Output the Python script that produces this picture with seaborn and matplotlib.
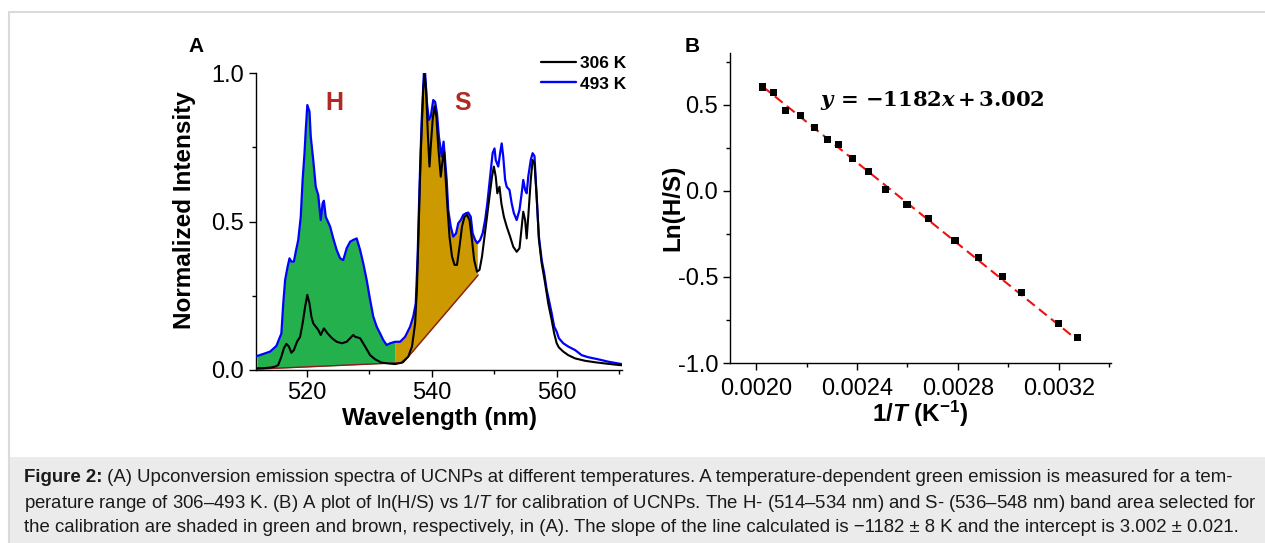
import numpy as np
import pandas as pd
import matplotlib
matplotlib.use("Agg")
import matplotlib.pyplot as plt
import seaborn as sns
from matplotlib.ticker import MultipleLocator, FormatStrFormatter
from matplotlib.lines import Line2D
from matplotlib.patches import Rectangle

# ---------------- data: panel A (spectra) ----------------
wl_306 = [512.0, 513.0, 514.1, 515.0, 515.4, 515.9, 516.3, 516.7, 517.1, 517.5, 517.9, 518.4,
          518.9, 519.3, 519.7, 520.05, 520.4, 520.7, 521.0, 521.4, 521.8, 522.2, 522.7, 523.3,
          524.0, 524.75, 525.6, 526.35, 526.9, 527.4, 527.7, 528.5, 529.3, 530.1, 530.9, 531.9,
          533.0, 534.1, 535.2, 536.2, 536.8, 537.3, 537.6, 537.9, 538.2, 538.6, 538.8, 539.05,
          539.35, 539.6, 539.8, 540.1, 540.4, 540.7, 541.0, 541.4, 541.7, 541.95, 542.2, 542.5,
          542.8, 543.2, 543.6, 544.0, 544.4, 544.8, 545.2, 545.6, 546.0, 546.4, 546.75, 547.2,
          547.6, 548.0, 548.4, 548.8, 549.2, 549.6, 549.9, 550.2, 550.45, 550.8, 551.1, 551.5,
          551.95, 552.5, 553.0, 553.55, 554.0, 554.3, 554.6, 554.9, 555.15, 555.4, 555.8, 556.1,
          556.4, 556.75, 557.1, 557.55, 558.1, 558.6, 559.15, 559.55, 559.95, 560.3, 561.0, 561.8,
          562.9, 564.5, 566.1, 567.7, 569.8, 570.4]
int_306 = [0.006, 0.006, 0.008, 0.012, 0.017, 0.045, 0.073, 0.088, 0.079, 0.058, 0.067, 0.095,
           0.112, 0.157, 0.213, 0.253, 0.224, 0.180, 0.157, 0.146, 0.135, 0.118, 0.140, 0.123,
           0.107, 0.095, 0.090, 0.095, 0.107, 0.118, 0.112, 0.107, 0.079, 0.050, 0.036, 0.025,
           0.022, 0.020, 0.025, 0.045, 0.079, 0.157, 0.281, 0.505, 0.730, 0.944, 1.000, 0.943,
           0.786, 0.685, 0.752, 0.842, 0.887, 0.853, 0.752, 0.651, 0.707, 0.735, 0.640, 0.539,
           0.449, 0.382, 0.354, 0.354, 0.415, 0.483, 0.516, 0.522, 0.505, 0.438, 0.370, 0.331,
           0.337, 0.382, 0.449, 0.516, 0.584, 0.651, 0.685, 0.651, 0.595, 0.617, 0.561, 0.516,
           0.483, 0.449, 0.415, 0.398, 0.410, 0.471, 0.533, 0.505, 0.443, 0.516, 0.640, 0.707,
           0.696, 0.584, 0.440, 0.359, 0.292, 0.224, 0.168, 0.123, 0.090, 0.076, 0.062, 0.050,
           0.039, 0.031, 0.026, 0.022, 0.017, 0.016]

wl_493 = [512.0, 513.0, 514.1, 515.1, 515.9, 516.2, 516.5, 516.9, 517.2, 517.5, 517.9, 518.2,
          518.6, 519.0, 519.3, 519.6, 519.8, 520.05, 520.4, 520.6, 521.0, 521.4, 521.8, 522.2,
          522.5, 522.7, 523.0, 523.7, 524.2, 524.75, 525.3, 525.8, 526.35, 526.9, 527.4, 527.95,
          528.5, 529.0, 529.55, 530.1, 530.6, 531.15, 531.7, 532.2, 532.75, 533.3, 534.1, 534.9,
          535.7, 536.5, 537.0, 537.4, 537.7, 538.0, 538.35, 538.7, 538.9, 539.2, 539.5, 539.8,
          540.2, 540.5, 540.8, 541.1, 541.55, 541.85, 542.35, 542.6, 543.0, 543.4, 543.85, 544.2,
          544.6, 545.0, 545.45, 545.8, 546.2, 546.5, 546.9, 547.25, 547.7, 548.1, 548.5, 548.85,
          549.3, 549.7, 550.0, 550.2, 550.6, 550.9, 551.15, 551.4, 551.7, 551.95, 552.4, 552.75,
          553.1, 553.55, 554.0, 554.35, 554.6, 554.9, 555.15, 555.4, 555.8, 556.1, 556.4, 556.75,
          557.1, 557.55, 557.95, 558.35, 558.7, 559.15, 559.55, 559.95, 560.3, 561.0, 561.8,
          562.9, 563.95, 565.0, 566.6, 568.2, 569.8, 570.4]
int_493 = [0.047, 0.054, 0.062, 0.081, 0.123, 0.224, 0.303, 0.348, 0.376, 0.365, 0.365, 0.398,
           0.438, 0.516, 0.640, 0.730, 0.808, 0.892, 0.870, 0.786, 0.707, 0.617, 0.589, 0.505,
           0.561, 0.570, 0.516, 0.483, 0.443, 0.404, 0.376, 0.370, 0.410, 0.432, 0.438, 0.443,
           0.404, 0.359, 0.303, 0.236, 0.180, 0.146, 0.123, 0.101, 0.084, 0.090, 0.095, 0.095,
           0.112, 0.146, 0.180, 0.224, 0.382, 0.617, 0.842, 1.000, 1.000, 0.898, 0.842, 0.853,
           0.909, 0.903, 0.864, 0.786, 0.718, 0.769, 0.640, 0.539, 0.483, 0.449, 0.460, 0.494,
           0.505, 0.522, 0.528, 0.530, 0.516, 0.460, 0.438, 0.427, 0.438, 0.460, 0.505, 0.561,
           0.651, 0.730, 0.746, 0.707, 0.685, 0.730, 0.763, 0.718, 0.640, 0.617, 0.606, 0.561,
           0.528, 0.505, 0.539, 0.595, 0.640, 0.606, 0.595, 0.651, 0.707, 0.730, 0.720, 0.580,
           0.450, 0.370, 0.326, 0.270, 0.236, 0.191, 0.146, 0.129, 0.107, 0.090, 0.079,
           0.067, 0.050, 0.043, 0.036, 0.028, 0.022, 0.020]

baseline_wl = [512.0, 535.4, 547.4]
baseline_int = [0.003, 0.025, 0.32]
h_band = (512.0, 534.1)
s_band = (534.1, 547.25)
legend_labels = ["306 K", "493 K"]

# ---------------- data: panel B (calibration) ----------------
inv_T = [0.002027, 0.002070, 0.002118, 0.002177, 0.002231, 0.002282, 0.002325, 0.002382,
         0.002445, 0.002514, 0.002598, 0.002683, 0.002788, 0.002883, 0.002978, 0.003051,
         0.003199, 0.003273]
ln_HS = [0.604, 0.571, 0.469, 0.440, 0.367, 0.299, 0.270, 0.189, 0.112, 0.010, -0.077,
         -0.162, -0.289, -0.388, -0.499, -0.592, -0.773, -0.854]
fit_slope = -1182
fit_intercept = 3.002

caption_bold = "Figure 2:"
caption_lines = [
    " (A) Upconversion emission spectra of UCNPs at different temperatures. A temperature-dependent green emission is measured for a tem-",
    "perature range of 306\u2013493 K. (B) A plot of ln(H/S) vs 1/$\\mathit{T}$ for calibration of UCNPs. The H- (514\u2013534 nm) and S- (536\u2013548 nm) band area selected for",
    "the calibration are shaded in green and brown, respectively, in (A). The slope of the line calculated is \u22121182 \u00b1 8 K and the intercept is 3.002 \u00b1 0.021.",
]

# ---------------- style ----------------
sns.set_theme(style="ticks")
plt.rcParams["font.family"] = ["Liberation Sans", "DejaVu Sans"]
plt.rcParams["axes.unicode_minus"] = False
plt.rcParams["text.color"] = "black"
plt.rcParams["axes.labelcolor"] = "black"
plt.rcParams["xtick.color"] = "black"
plt.rcParams["ytick.color"] = "black"
plt.rcParams["mathtext.fontset"] = "custom"
plt.rcParams["mathtext.rm"] = "Liberation Sans"
plt.rcParams["mathtext.it"] = "Liberation Sans:italic"
plt.rcParams["mathtext.bf"] = "Liberation Sans:bold"
plt.rcParams["mathtext.bfit"] = "Liberation Sans:bold:italic"

W, H = 1265, 543
fig = plt.figure(figsize=(W / 100, H / 100), dpi=100)
fig.patch.set_facecolor("white")

def fx(px):
    return px / W

def fy(py):
    return 1 - py / H

# frame and caption box (behind everything)
fig.patches.append(Rectangle((fx(9), 0), 1.0, fy(12), transform=fig.transFigure,
                             facecolor="white", edgecolor="#dadada", lw=1.5, zorder=-3))
fig.patches.append(Rectangle((fx(9.8), 0), 1.0, fy(457), transform=fig.transFigure,
                             facecolor="#ebebeb", edgecolor="none", zorder=-2))

def style_axes(ax):
    for s in ["top", "right"]:
        ax.spines[s].set_visible(False)
    for s in ["left", "bottom"]:
        ax.spines[s].set_linewidth(1.0)
        ax.spines[s].set_color("black")
    ax.tick_params(which="major", direction="out", length=5, width=1.0, labelsize=17,
                   colors="black", pad=3.5)
    ax.tick_params(which="minor", direction="out", length=3, width=1.0, colors="black")
    ax.set_facecolor("none")

# ---------------- panel A ----------------
axA = fig.add_axes([fx(256), fy(370), fx(366), 297 / H])
wl493 = np.array(wl_493)
i493 = np.array(int_493)
base493 = np.interp(wl493, baseline_wl, baseline_int)
mh = (wl493 >= h_band[0]) & (wl493 <= h_band[1])
ms = (wl493 >= s_band[0]) & (wl493 <= s_band[1])
axA.fill_between(wl493[mh], base493[mh], i493[mh], color="#24b04c", lw=0, zorder=1)
axA.fill_between(wl493[ms], base493[ms], i493[ms], color="#cc9a00", lw=0, zorder=1)
sns.lineplot(x=baseline_wl, y=baseline_int, ax=axA, color="#8b1a1a", lw=1.0, zorder=2)
sns.lineplot(x=wl_493, y=int_493, ax=axA, color="#0000ff", lw=1.6, zorder=3)
sns.lineplot(x=wl_306, y=int_306, ax=axA, color="black", lw=1.5, zorder=4)
axA.set_xlim(511.84, 570.4)
axA.set_ylim(0, 1.0)
axA.xaxis.set_major_locator(MultipleLocator(20))
axA.xaxis.set_minor_locator(MultipleLocator(10))
axA.yaxis.set_major_locator(MultipleLocator(0.5))
axA.yaxis.set_minor_locator(MultipleLocator(0.25))
axA.yaxis.set_major_formatter(FormatStrFormatter("%.1f"))
style_axes(axA)
axA.set_xlabel("Wavelength (nm)", fontsize=17.5, fontweight="bold")
axA.set_ylabel("Normalized Intensity", fontsize=17.5, fontweight="bold")
axA.xaxis.set_label_coords(0.5, -0.125)
axA.yaxis.set_label_coords(-0.163, 0.539)
handles = [Line2D([], [], color="black", lw=1.6), Line2D([], [], color="#0000ff", lw=1.7)]
axA.legend(handles, legend_labels, loc="upper left", bbox_to_anchor=(fx(541), fy(56)),
           bbox_transform=fig.transFigure, frameon=False,
           prop={"weight": "bold", "size": 12.5},
           handlelength=2.0, handletextpad=0.25, labelspacing=0.3, borderpad=0, borderaxespad=0)
fig.text(fx(334), fy(103), "H", fontsize=18, fontweight="bold", color="#b02a22",
         ha="center", va="center")
fig.text(fx(463), fy(103), "S", fontsize=18, fontweight="bold", color="#b02a22",
         ha="center", va="center")
fig.text(fx(196), fy(46), "A", fontsize=15, fontweight="bold", ha="center", va="center")

# ---------------- panel B ----------------
axB = fig.add_axes([fx(730), fy(363), fx(381), 309.7 / H])
fit_x = [min(inv_T), max(inv_T)]
fit_y = [fit_slope * v + fit_intercept for v in fit_x]
sns.lineplot(x=fit_x, y=fit_y, ax=axB, color="#ee1111", lw=1.5, zorder=2,
             linestyle=(0, (4.8, 2.6)))
sns.scatterplot(x=inv_T, y=ln_HS, ax=axB, color="black", marker="s", s=26,
                edgecolor="none", zorder=3)
axB.set_xlim(0.001897, 0.003406)
axB.set_ylim(-1.0, 0.80)
axB.xaxis.set_major_locator(MultipleLocator(0.0004))
axB.xaxis.set_minor_locator(MultipleLocator(0.0002))
axB.xaxis.set_major_formatter(FormatStrFormatter("%.4f"))
axB.yaxis.set_major_locator(MultipleLocator(0.5))
axB.yaxis.set_minor_locator(MultipleLocator(0.25))
axB.yaxis.set_major_formatter(FormatStrFormatter("%.1f"))
style_axes(axB)
axB.tick_params(axis="x", which="major", pad=6)
axB.set_xlabel(r"1/$\mathbfit{T}$ (K$^{\mathbf{-1}}$)", fontsize=17.5, fontweight="bold")
axB.set_ylabel("Ln(H/S)", fontsize=17.5, fontweight="bold")
axB.xaxis.set_label_coords(0.5, -0.115)
axB.yaxis.set_label_coords(-0.121, 0.5)
fig.text(fx(820), fy(100),
         r"$\mathbfit{y}\,\mathbf{=}\,\mathbf{-1182}\mathbfit{x}\,\mathbf{+}\,\mathbf{3.002}$",
         fontsize=15.2, ha="left", va="center", math_fontfamily="dejavuserif")
fig.text(fx(692), fy(46), "B", fontsize=15, fontweight="bold", ha="center", va="center")

# ---------------- caption ----------------
cap_size = 13.4
cap_color = "#1a1a1a"
renderer = fig.canvas.get_renderer()
tb = fig.text(fx(24), fy(478), caption_bold, fontsize=cap_size, fontweight="bold",
              ha="left", va="center", color=cap_color)
bw = tb.get_window_extent(renderer=renderer).width
fig.text(fx(24 + bw), fy(478), caption_lines[0], fontsize=cap_size, ha="left",
         va="center", color=cap_color)
fig.text(fx(24), fy(503), caption_lines[1], fontsize=cap_size, ha="left", va="center",
         color=cap_color)
fig.text(fx(24), fy(528), caption_lines[2], fontsize=cap_size, ha="left", va="center",
         color=cap_color)

fig.savefig("out.png", dpi=100)
